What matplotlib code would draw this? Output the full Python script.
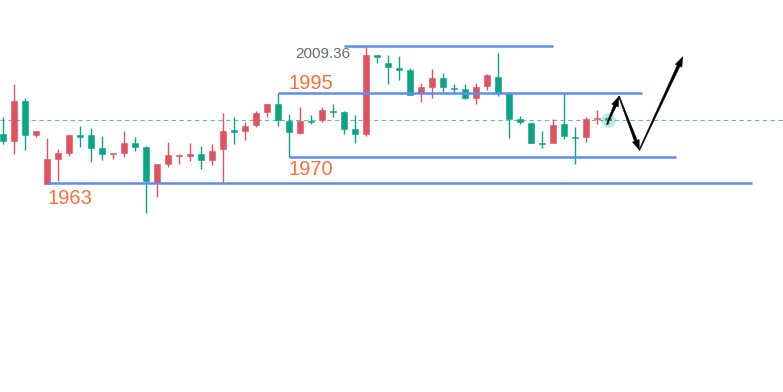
import matplotlib.pyplot as plt
import numpy as np
from matplotlib.patches import Polygon
from matplotlib.transforms import IdentityTransform

# candle data (index = bar number), prices
opens = [1979.7, 1977.4, 1990.7, 1979.4, 1963.0, 1971.4, 1973.4, 1979.4, 1979.4, 1975.0,
         1973.0, 1973.4, 1976.7, 1975.4, 1963.4, 1969.7, 1972.4, 1972.5, 1973.0, 1971.0,
         1974.7, 1981.0, 1980.7, 1982.7, 1987.0, 1989.7, 1984.0, 1980.0, 1984.2, 1984.4,
         1987.4, 1987.0, 1981.4, 1979.7, 2006.4, 2003.7, 2002.0, 2001.4, 1993.7, 1995.7,
         1998.4, 1995.2, 1995.0, 1991.7, 1996.0, 1999.0, 1993.7, 1984.7, 1983.4, 1976.7,
         1976.7, 1983.0, 1978.9, 1978.7, 1984.7, 1985.0]
closes = [1977.4, 1990.7, 1979.4, 1980.7, 1971.4, 1973.4, 1979.4, 1978.7, 1975.0, 1973.0,
          1973.4, 1976.7, 1975.4, 1964.0, 1969.7, 1972.7, 1972.7, 1973.0, 1971.0, 1974.0,
          1980.7, 1980.5, 1982.4, 1986.7, 1989.7, 1984.4, 1980.4, 1984.0, 1983.9, 1987.7,
          1987.0, 1981.4, 1979.7, 2006.4, 2005.7, 2002.4, 2001.4, 1993.0, 1995.4, 1998.4,
          1995.7, 1994.9, 1991.7, 1995.7, 1999.4, 1993.7, 1984.7, 1983.7, 1976.7, 1976.4,
          1982.7, 1979.0, 1978.5, 1984.7, 1984.9, 1984.4]
highs = [1985.4, 1996.7, 1992.0, 1980.7, 1978.4, 1974.7, 1979.4, 1982.4, 1981.7, 1979.0,
         1973.4, 1980.7, 1978.7, 1975.7, 1969.7, 1977.0, 1973.0, 1976.7, 1975.7, 1976.4,
         1986.7, 1985.4, 1983.7, 1987.4, 1989.7, 1993.7, 1986.4, 1988.7, 1986.0, 1988.7,
         1989.7, 1987.4, 1986.0, 2009.36, 2006.4, 2006.4, 2006.0, 2002.0, 1997.0, 2001.7,
         2000.4, 1996.7, 1996.7, 1997.0, 2000.0, 2007.0, 1994.0, 1985.7, 1983.4, 1980.7,
         1984.7, 1993.7, 1982.0, 1985.4, 1988.0, 1985.4]
lows = [1976.4, 1973.0, 1974.4, 1978.7, 1963.0, 1964.0, 1972.4, 1975.4, 1970.4, 1971.0,
        1971.4, 1972.0, 1974.0, 1953.4, 1958.7, 1968.7, 1969.7, 1970.7, 1968.0, 1969.4,
        1963.4, 1976.4, 1977.7, 1982.0, 1985.4, 1982.4, 1972.0, 1979.7, 1983.0, 1983.7,
        1985.4, 1979.7, 1976.7, 1979.0, 2003.7, 1996.4, 1998.0, 1993.0, 1990.4, 1991.7,
        1994.0, 1993.4, 1991.4, 1990.0, 1994.7, 1992.4, 1978.4, 1983.0, 1976.7, 1975.0,
        1976.7, 1978.0, 1969.7, 1977.0, 1983.0, 1983.0]

# drawn support / resistance lines: (start bar, end bar, level)
line_start = [31, 25, 26, 4]
line_end = [50, 58.1, 61.2, 68.1]
line_level = [2009.36, 1993.7, 1972.0, 1963.4]

# label texts and anchor points
label_text = ["1995", "1970", "1963"]
label_x = [25.95, 25.95, 4.0]
label_y = [1995.0, 1966.0, 1956.4]

# arrow path (bar, price)
arrow_x = [54.9, 56.0, 57.85, 61.8]
arrow_y = [1983.0, 1992.4, 1974.4, 2005.7]

RED = "#E0525F"
TEAL = "#0BA586"
BLUE = "#5C8DF5"
ORANGE = "#FF6D3A"

fig = plt.figure(figsize=(7.83, 3.92), dpi=100)
ax = fig.add_axes([0, 0, 1, 1])
ax.set_xlim(-3 / 11, 780 / 11)
ax.set_ylim(1893.36, 2024.69)
ax.axis("off")

o = np.array(opens)
c = np.array(closes)
h = np.array(highs)
l = np.array(lows)
x = np.arange(len(o))
cols = [RED if cc >= oo else TEAL for oo, cc in zip(o, c)]

# current price line
ax.axhline(c[-1], color="#4DB398", lw=0.8, ls=(0, (4, 3)), alpha=0.85, zorder=1)

ax.vlines(x, l, h, colors=cols, lw=1.0, zorder=3)
ax.bar(x, np.maximum(np.abs(c - o), 0.4), bottom=np.minimum(o, c), width=0.55,
       color=cols, edgecolor=cols, linewidth=0.4, zorder=4)

# glow on the last bar
ax.scatter([x[-1]], [c[-1]], s=110, color=TEAL, alpha=0.25, lw=0, zorder=2)

for s, e, lev in zip(line_start, line_end, line_level):
    ax.plot([s, e], [lev, lev], color=BLUE, lw=1.8, solid_capstyle="butt", zorder=5)

for t, tx, ty in zip(label_text, label_x, label_y):
    ax.text(tx, ty, t, color=ORANGE, fontsize=14.5, family="Liberation Sans",
            va="baseline", ha="left", zorder=6)

# high price marker
top = int(np.argmax(h))
ax.text(31.6, 2005.4, f"{h[top]:.2f}", color="#666A78", fontsize=11,
        family="Liberation Sans", va="baseline", ha="right", zorder=6)
ax.plot([31.75, top - 0.15], [h[top] - 0.4, h[top] - 0.4], color="#7A7E8A",
        lw=1.0, ls=(0, (1, 1.5)), zorder=6)

# tapered arrows, built in pixel space
pts = ax.transData.transform(np.column_stack([arrow_x, arrow_y]))
for i in range(len(pts) - 1):
    p0, p1 = pts[i], pts[i + 1]
    d = p1 - p0
    L = np.hypot(*d)
    u = d / L
    n = np.array([-u[1], u[0]])
    hl, hw = 10.0, 3.6
    base = p1 - u * hl
    poly = [p0 + n * 0.5, base + n * 1.5, base + n * hw, p1,
            base - n * hw, base - n * 1.5, p0 - n * 0.5]
    ax.add_patch(Polygon(poly, closed=True, color="black", lw=0.3,
                         transform=IdentityTransform(), zorder=7))

fig.savefig("out.png", dpi=100)
